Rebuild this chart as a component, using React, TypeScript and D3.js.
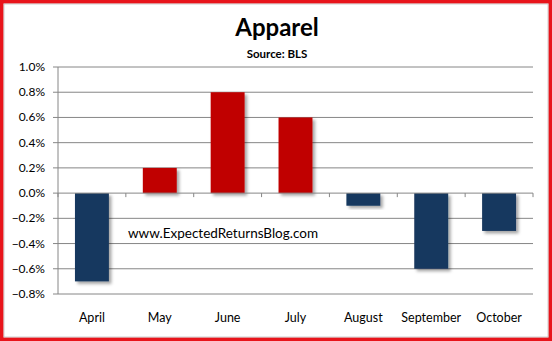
import React from "react";
import * as d3 from "d3";

const categories = ["April", "May", "June", "July", "August", "September", "October"];
const values = [-0.7, 0.2, 0.8, 0.6, -0.1, -0.6, -0.3];
const yTicks = [1.0, 0.8, 0.6, 0.4, 0.2, 0.0, -0.2, -0.4, -0.6, -0.8];
const title = "Apparel";
const subtitle = "Source: BLS";
const watermark = "www.ExpectedReturnsBlog.com";

const W = 552, H = 341;
const left = 58, right = 533, top = 67, bottom = 294;
const font = "Lato, 'Open Sans', sans-serif";

export default function App() {
  const x = d3.scaleBand<string>().domain(categories).range([left, right]).paddingInner(0.5).paddingOuter(0.25);
  const y = d3.scaleLinear().domain([-0.8, 1.0]).range([bottom, top]);
  const boundaries = d3.range(categories.length + 1).map(i => left + (i * (right - left)) / categories.length);
  return (
    <svg width={W} height={H} style={{ position: "absolute", left: 0, top: 0, background: "#fff" }}>
      <defs>
        <filter id="sh" x="-20%" y="-20%" width="150%" height="150%">
          <feDropShadow dx="2.5" dy="2.5" stdDeviation="1.5" floodColor="#000" floodOpacity="0.35" />
        </filter>
      </defs>
      <rect x={0} y={0} width={W} height={H} fill="#fff" />
      <rect x={1.5} y={1.5} width={W - 3} height={H - 3} fill="none" stroke="#E8141B" strokeWidth={4} />
      <rect x={4} y={4} width={W - 8} height={H - 8} fill="none" stroke="#B0B0B0" strokeWidth={0.6} />
      <text x={277} y={36} textAnchor="middle" fontFamily={font} fontWeight="bold" fontSize={24}>{title}</text>
      <text x={277} y={58} textAnchor="middle" fontFamily={font} fontWeight="bold" fontSize={11.5}>{subtitle}</text>
      {yTicks.map(t => (
        <g key={t}>
          {t !== 0 && <line x1={left} x2={right} y1={y(t)} y2={y(t)} stroke="#868686" strokeWidth={1} />}
          <line x1={left - 5} x2={left} y1={y(t)} y2={y(t)} stroke="#868686" strokeWidth={1} />
          <text x={45} y={y(t) + 4} textAnchor="end" fontFamily={font} fontSize={12} fill="#000">{d3.format(".1f")(t) + "%"}</text>
        </g>
      ))}
      <line x1={left} x2={left} y1={top} y2={bottom} stroke="#868686" strokeWidth={1} />
      {categories.map((c, i) => {
        const v = values[i];
        const y0 = y(0), y1 = y(v);
        return (
          <rect key={c} x={x(c)} width={x.bandwidth()} y={Math.min(y0, y1)} height={Math.abs(y1 - y0)}
            fill={v >= 0 ? "#C00000" : "#17375E"} filter="url(#sh)" />
        );
      })}
      <line x1={left} x2={right} y1={y(0)} y2={y(0)} stroke="#868686" strokeWidth={1} />
      {boundaries.map((b, i) => (
        <line key={i} x1={b} x2={b} y1={y(0)} y2={y(0) + 4} stroke="#868686" strokeWidth={1} />
      ))}
      {categories.map(c => (
        <text key={c} x={(x(c) as number) + x.bandwidth() / 2} y={322} textAnchor="middle" fontFamily={font} fontSize={12.5}>{c}</text>
      ))}
      <text x={128} y={238} fontFamily={font} fontSize={13.5}>{watermark}</text>
    </svg>
  );
}
